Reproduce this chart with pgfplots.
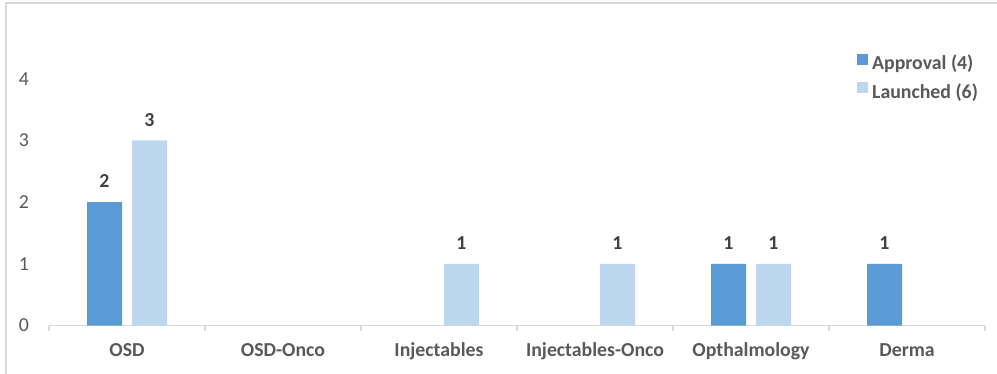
\documentclass[border=0pt]{standalone}
\usepackage{pgfplots}
\pgfplotsset{compat=1.18}
\usepackage{fontspec}
\setmainfont{Carlito}
\definecolor{barA}{HTML}{5B9BD5}
\definecolor{barB}{HTML}{BDD7EE}
\definecolor{txt}{HTML}{595959}
\definecolor{lbl}{HTML}{404040}
\definecolor{axl}{HTML}{D9D9D9}
\newcommand\fs{\fontsize{19.8}{23}\selectfont}
\begin{document}
\begin{tikzpicture}[x=1pt,y=1pt]
\useasboundingbox (0,0) rectangle (997,374);
\draw[axl, line width=1.2pt] (6,0) -- (6,371) -- (997,371);
\begin{axis}[
  at={(49pt,48.4pt)}, anchor=south west,
  scale only axis, width=936pt, height=308.6pt,
  xmin=-0.5, xmax=5.5, ymin=0, ymax=5,
  ybar=10pt, bar width=35pt,
  axis lines*=left,
  axis line style={-},
  y axis line style={draw=none},
  x axis line style={axl, line width=1.2pt},
  ytick={0,1,2,3,4},
  xtick={0,1,2,3,4,5},
  xticklabels={OSD,OSD-Onco,Injectables,Injectables-Onco,Opthalmology,Derma},
  major tick length=0pt,
  tick style={axl, line width=1.2pt},
  extra x ticks={-0.5,0.5,1.5,2.5,3.5,4.5,5.5},
  extra x tick labels={},
  extra x tick style={major tick length=5pt, tick align=outside},
  /pgf/number format/assume math mode=true,
  xticklabel style={font=\fs\bfseries, text=txt, anchor=base, yshift=-31.4pt},
  yticklabel style={font=\fs, text=txt, anchor=east, inner sep=0pt, xshift=-20pt},
  nodes near coords,
  every node near coord/.append style={font=\fs\bfseries, text=lbl, inner sep=0pt, yshift=14pt},
  legend cell align=left,
  legend style={at={(0.8632,0.8810)}, anchor=north west, draw=none, fill=none,
    inner sep=0pt, row sep=8.5pt, column sep=4pt, font=\fs\bfseries, text=txt,
    nodes={inner sep=0pt, text height=13pt, text depth=4pt}},
]
\addplot[fill=barA, draw=none, legend image code/.code={\fill[barA] (0pt,0.5pt) rectangle (11pt,11.5pt);}]
  coordinates {(0,2) (4,1) (5,1)};
\addlegendentry{Approval (4)}
\addplot[fill=barB, draw=none, legend image code/.code={\fill[barB] (0pt,0.5pt) rectangle (11pt,11.5pt);}]
  coordinates {(0,3) (2,1) (3,1) (4,1)};
\addlegendentry{Launched (6)}
\end{axis}
\end{tikzpicture}
\end{document}
